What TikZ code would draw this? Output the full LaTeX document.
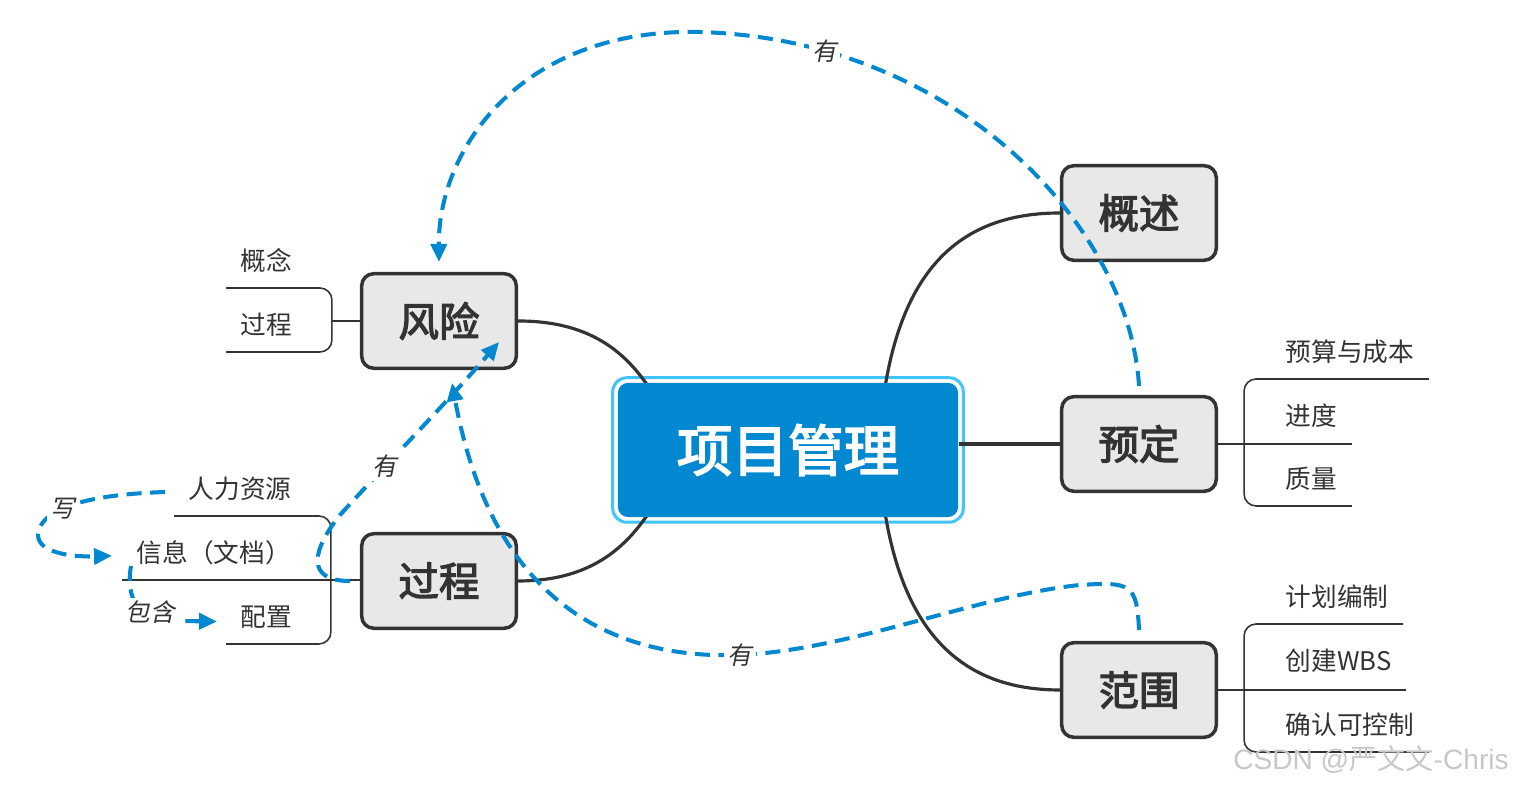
\documentclass[tikz,border=0pt]{standalone}
\usepackage{fontspec}
\setmainfont{Noto Sans CJK SC}
\newfontfamily\notefont[FakeSlant=0.2]{Noto Sans CJK SC}
\newfontfamily\heavyfont[FakeBold=3]{Noto Sans CJK SC}
\newfontfamily\markfont{Liberation Sans}
\usetikzlibrary{arrows.meta,backgrounds,positioning}
\definecolor{mmblue}{RGB}{2,136,209}
\definecolor{mmlight}{RGB}{64,196,250}
\definecolor{mmgray}{RGB}{232,232,232}
\definecolor{mmdark}{RGB}{51,51,51}
\tikzstyle{root} = [fill=mmblue,rounded corners=0.1cm,minimum width=3.4cm,minimum height=1.34cm,text=white,font=\fontsize{15.8}{18}\selectfont\heavyfont]
\tikzstyle{topic} = [draw=mmdark,line width=1pt,fill=mmgray,rounded corners=0.12cm,minimum width=1.545cm,minimum height=0.945cm,text=mmdark,font=\fontsize{11.5}{13}\selectfont\heavyfont]
\tikzstyle{leaf} = [anchor=south west,inner xsep=0.14cm,inner ysep=0.165cm,text depth=0pt,text=mmdark,font=\fontsize{7.3}{9}\selectfont]
\tikzstyle{branch} = [draw=mmdark,line width=0.9pt]
\tikzstyle{twig} = [draw=mmdark,line width=0.45pt,rounded corners=0.12cm]
\tikzstyle{link} = [draw=mmblue,line width=1.15pt,dash pattern=on 0.15cm off 0.085cm,-{Triangle[length=0.18cm,width=0.16cm]}]
\tikzstyle{note} = [fill=white,inner sep=1pt,text=mmdark,font=\fontsize{7}{8}\selectfont\notefont]

\begin{document}
\begin{tikzpicture}[x=0.01cm,y=-0.01cm]
  \useasboundingbox (0,0) rectangle (1514,786);
  \node[root] (pm) at (788,450) {项目管理};
  \node[topic] (risk) at (439,321) {风险};
  \node[topic] (proc) at (439,581) {过程};
  \node[topic] (over) at (1139,213) {概述};
  \node[topic] (plan) at (1139,444) {预定};
  \node[topic] (scope) at (1139,690) {范围};

  \node[leaf] (concept) at (226,288) {概念};
  \node[leaf] (riskproc) at (226,352) {过程};
  \node[leaf] (hr) at (174,516) {人力资源};
  \node[leaf] (info) at (122,580) {信息（文档）};
  \node[leaf] (config) at (226,644) {配置};
  \node[leaf] (budget) at (1271,379) {预算与成本};
  \node[leaf] (progress) at (1271,443) {进度};
  \node[leaf] (quality) at (1271,506) {质量};
  \node[leaf] (wbsplan) at (1271,624) {计划编制};
  \node[leaf] (wbs) at (1271,688) {创建WBS};
  \node[leaf] (verify) at (1271,752) {确认可控制};

  \coordinate (riskfork) at ([xshift=-0.28cm]risk.west);
  \coordinate (procfork) at ([xshift=-0.29cm]proc.west);
  \coordinate (planfork) at ([xshift=0.26cm]plan.east);
  \coordinate (scopefork) at ([xshift=0.26cm]scope.east);
  \draw[twig] (concept.south west) -| (riskfork) |- (riskproc.south west);
  \draw[twig] (risk.west) -- (riskfork);
  \draw[twig] (hr.south west) -| (procfork) |- (config.south west);
  \draw[twig] (info.south west) -- (info.south west -| proc.west);
  \draw[twig] (budget.south east) -| (planfork) |- (quality.south east);
  \draw[twig] (plan.east) -- (plan.east -| progress.south east);
  \draw[twig] (wbsplan.south east) -| (scopefork) |- (verify.south east);
  \draw[twig] (scope.east) -- (scope.east -| wbs.south east);

  \begin{scope}[on background layer]
    \draw[mmlight,line width=0.03cm,rounded corners=0.14cm] ([shift={(-0.045cm,0.045cm)}]pm.north west) rectangle ([shift={(0.045cm,-0.045cm)}]pm.south east);
    \draw[branch] (risk.east) .. controls +(75,0) and +(-28,-50) .. ([shift={(42,22)}]pm.north west);
    \draw[branch] (proc.east) .. controls +(75,0) and +(-28,50) .. ([shift={(42,-22)}]pm.south west);
    \draw[branch] (over.west) .. controls +(-100,0) and +(18,-130) .. ([shift={(266,17)}]pm.north west);
    \draw[branch] (plan.west) -- (plan.west -| pm.east);
    \draw[branch] (scope.west) .. controls +(-100,0) and +(18,130) .. ([shift={(266,-17)}]pm.south west);
  \end{scope}

  \coordinate (arctop) at (700,32);
  \draw[link] ([yshift=0.09cm]plan.north) .. controls (1130,230) and (960,40) .. node[note,pos=0.83]{有} (arctop) .. controls (520,28) and (438,150) .. ([yshift=0.1cm]risk.north);
  \draw[link] ([yshift=0.11cm]scope.north) .. controls +(-2,-47) and (1130,582) .. (1080,585) .. controls (980,595) and (850,650) .. (740,655) node[note]{有} .. controls (600,660) and (490,590) .. ([shift={(13,13)}]risk.south);
  \draw[link] ([xshift=-0.1cm]proc.west) .. controls +(-45,0) and +(-28,35) .. (340,515) .. controls (390,460) and (440,410) .. node[note,pos=0.3]{有} ([shift={(-19,-28)}]risk.south east);
  \draw[link] ([shift={(-9,4)}]hr.west) .. controls +(-65,2) and (40,505) .. node[note,pos=0.62]{写} (38,535) .. controls (38,555) and (80,557) .. ([shift={(-10,4)}]info.west);
  \draw[link] ([shift={(9,-14)}]info.south west) .. controls +(-6,34) and (140,621) .. node[note,pos=0.8,xshift=-0.06cm,yshift=0.06cm]{包含} (175,621) -- ([shift={(-9,5)}]config.west);

  \node[text=black!22,font=\fontsize{8}{10}\selectfont] (mark) at (1371,760) {\markfont CSDN @\rmfamily 严文文\markfont -Chris};
\end{tikzpicture}
\end{document}
